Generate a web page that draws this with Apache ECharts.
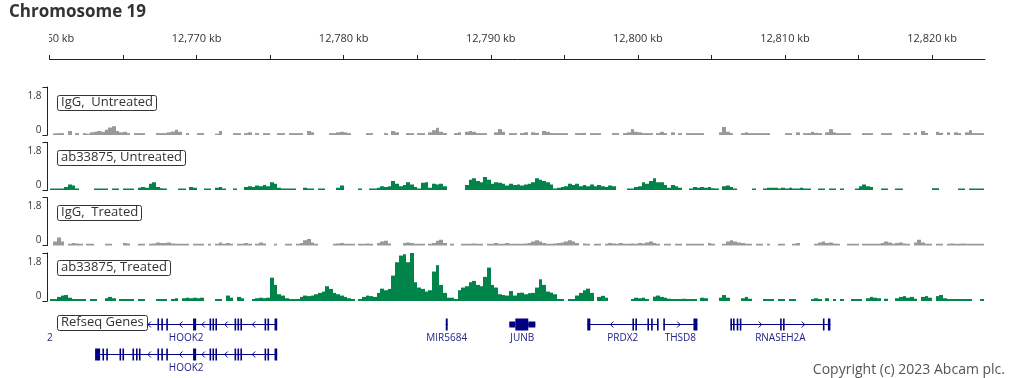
<!DOCTYPE html>
<html><head><meta charset="utf-8">
<script src="https://cdn.jsdelivr.net/npm/echarts@6/dist/echarts.min.js"></script>
<style>html,body{margin:0;padding:0;background:#fff}#c{width:1020px;height:378px}</style>
</head><body><div id="c"></div>
<script>
const _ = null;
// genomic window (kb) and axis ticks
const regionMinKb = 12760, regionMaxKb = 12823.6;
const tickKb = [12760,12765,12770,12775,12780,12785,12790,12795,12800,12805,12810,12815,12820];
const labelKb = [12760,12770,12780,12790,12800,12810,12820];
// coverage bins
const binStartKb = 12760, binSizeKb = 0.25;
const trackNames = ['IgG,  Untreated','ab33875, Untreated','IgG,  Treated','ab33875, Treated'];
const igGUntreated = [
_,0.06,0.07,0.07,_,0.15,_,0.07,_,0.07,
0.05,0.1,0.12,0.15,0.12,0.2,0.28,0.33,0.15,0.1,
0.12,0.07,_,0.07,0.07,0.07,_,_,_,0.07,
0.07,0.07,0.1,0.13,0.2,0.12,_,0.07,_,_,
0.07,0.07,_,_,_,0.05,0.15,_,_,_,
0.07,0.07,_,0.07,0.1,_,0.07,_,0.07,0.07,
_,_,0.07,0.07,_,0.07,0.07,0.07,0.07,_,
0.15,0.1,_,_,_,_,0.07,0.07,0.1,0.12,
0.1,0.07,_,_,_,_,0.07,0.07,_,_,
_,0.07,_,0.15,0.1,_,_,0.07,0.07,_,
0.07,0.07,_,0.1,0.18,0.27,0.12,0.07,_,_,
0.07,0.1,_,0.12,0.15,0.12,0.07,0.07,0.07,_,
_,0.1,0.22,0.12,_,0.07,0.07,_,0.07,0.1,
_,0.1,0.08,_,0.15,0.12,0.07,0.07,0.07,0.07,
0.07,_,_,0.07,0.07,0.08,_,0.07,0.07,0.07,
_,_,_,0.07,0.07,_,0.07,0.1,0.22,0.12,
0.1,0.07,0.07,0.07,_,0.07,0.12,0.07,_,0.1,
_,0.07,_,0.07,0.07,0.07,0.07,0.07,_,_,
_,_,0.1,0.3,0.12,0.07,_,_,0.07,0.1,
0.07,0.07,0.07,0.07,0.07,0.07,_,_,_,_,
0.07,0.07,_,0.1,_,0.07,0.07,0.12,0.08,0.07,
_,0.1,0.22,0.1,0.07,0.07,0.07,0.07,_,_,
_,0.07,0.07,0.07,_,_,0.07,0.07,0.07,_,
_,_,0.07,0.07,_,0.1,_,0.15,0.08,_,
_,0.12,0.08,_,0.1,_,0.1,0.07,_,0.1,
0.18,0.07,0.07,0.07,_];
const abUntreated = [
0.07,0.07,0.07,0.07,0.12,0.22,0.18,0.07,_,_,
_,_,0.07,0.07,0.07,0.07,_,0.07,0.07,_,
0.07,0.07,0.07,_,0.1,0.12,0.1,0.25,0.3,0.12,
0.08,0.07,_,_,_,0.07,0.07,_,0.12,0.1,
_,_,0.07,0.07,_,0.1,0.12,0.07,_,_,
0.07,_,_,0.12,0.15,0.12,0.18,0.15,0.2,0.15,
0.3,0.25,0.1,0.07,0.07,0.07,0.07,_,_,0.1,
0.07,0.07,_,0.07,0.07,_,_,_,0.1,0.18,
_,_,_,_,0.07,_,_,0.07,0.07,0.1,
0.15,0.12,0.15,0.35,0.25,0.15,0.2,0.3,0.22,0.12,
0.07,0.28,0.3,0.1,0.25,0.22,0.25,0.15,_,_,
_,_,_,0.2,0.4,0.45,0.35,0.3,0.5,0.4,
0.25,0.3,0.28,0.25,0.18,0.25,0.2,0.22,0.18,0.22,
0.25,0.3,0.45,0.4,0.35,0.3,0.22,0.07,0.1,0.12,
0.15,0.25,0.2,0.25,0.15,0.2,0.15,0.22,0.15,0.2,
0.15,0.12,0.18,0.15,_,_,_,0.07,0.07,0.12,
0.15,0.3,0.25,0.35,0.45,0.3,0.3,0.2,0.1,0.2,
0.15,0.1,_,_,0.07,0.12,0.1,0.12,0.1,0.12,
0.08,0.07,_,0.15,0.18,0.12,0.07,_,_,_,
_,0.07,_,_,0.07,0.1,0.1,0.1,0.07,0.1,
0.07,0.1,0.07,0.07,0.1,0.07,0.07,_,_,0.07,
0.07,_,0.07,0.07,_,0.07,_,_,_,0.07,
0.15,0.22,0.15,0.12,_,_,0.07,0.07,_,_,
0.07,0.07,_,_,_,_,_,_,_,_,
0.08,0.08,_,_,_,_,_,0.07,0.07,_,
0.07,0.07,0.07,0.07,_];
const igGTreated = [
_,0.15,0.3,0.15,_,0.07,0.1,0.08,0.07,_,
0.07,0.07,_,_,_,0.07,0.07,_,_,_,
0.1,0.08,_,_,0.07,0.07,_,0.07,0.08,0.12,
0.1,0.1,0.12,0.08,0.07,0.07,0.07,0.07,_,0.07,
0.07,0.07,_,0.07,_,0.07,0.12,0.07,0.1,0.07,
_,0.07,0.07,0.1,0.07,_,0.07,0.12,0.08,_,
_,0.07,_,_,0.07,0.07,_,0.07,0.1,0.2,
0.25,0.12,0.07,_,_,_,_,0.07,0.08,0.1,
0.07,0.07,0.07,_,0.07,0.07,0.08,0.07,_,0.1,
0.15,0.18,0.08,_,_,_,0.1,0.12,0.1,0.07,
0.07,0.07,_,0.07,0.1,0.18,0.22,0.1,_,0.07,
_,_,0.07,0.07,0.07,0.08,0.07,0.07,_,0.07,
0.07,0.1,0.07,0.07,0.1,0.07,0.07,0.07,0.07,0.08,
0.1,0.15,0.2,0.15,0.1,0.07,0.07,0.08,0.1,0.12,
0.15,0.2,0.15,0.1,_,0.08,0.07,_,0.07,0.07,
_,0.07,0.1,0.08,0.07,0.1,0.07,0.07,0.08,0.07,
0.1,0.08,0.12,0.15,0.1,0.07,_,0.07,0.07,_,
0.07,0.07,_,0.07,0.07,0.07,0.07,0.07,_,0.1,
0.07,_,_,0.07,0.15,0.2,0.15,0.12,0.1,0.07,
0.07,_,0.07,0.07,_,0.07,_,_,0.07,0.07,
_,_,0.07,0.1,_,_,_,_,0.07,0.12,
0.15,0.1,0.12,0.08,0.07,_,_,0.07,0.07,0.07,
_,0.07,0.07,0.07,0.07,0.07,0.1,0.15,0.12,0.07,
0.1,0.12,0.08,0.07,_,0.12,0.22,0.12,0.07,0.07,
_,0.07,0.07,_,0.07,0.08,0.07,0.07,0.08,0.07,
0.07,0.07,0.07,0.07,_];
const abTreated = [
0.07,0.07,0.15,0.2,0.22,0.12,0.07,0.07,0.07,0.07,
_,0.07,0.07,_,_,0.1,0.15,0.1,_,0.07,
0.07,0.07,0.07,_,0.07,0.07,_,_,_,0.07,
0.07,0.07,_,0.07,0.1,_,0.1,0.12,0.1,0.12,
0.1,0.12,_,_,_,0.07,0.07,_,0.2,0.12,
_,0.15,0.1,_,_,0.07,0.1,0.12,0.1,0.12,
0.87,0.6,0.25,0.2,0.1,0.07,0.07,0.07,0.15,0.2,
0.18,0.2,0.25,0.3,0.35,0.55,0.45,0.3,0.25,0.2,
0.15,0.1,0.07,_,0.07,0.15,0.2,0.18,0.15,0.3,
0.46,0.4,0.45,0.95,1.45,1.7,1.75,1.45,1.8,0.7,
0.5,0.45,0.35,0.4,1.1,1.34,0.6,0.3,0.12,0.12,
0.07,0.4,0.5,0.55,0.7,0.75,0.6,0.55,0.9,1.25,
0.6,0.5,0.25,0.22,0.2,0.37,0.2,0.3,0.31,0.25,
0.29,0.3,0.5,0.81,0.6,0.35,0.31,0.25,0.07,0.07,
_,0.07,0.07,0.2,0.3,0.4,0.46,0.3,_,0.15,
0.19,0.12,_,_,_,_,_,_,0.07,0.12,
0.1,0.12,0.07,_,0.16,0.2,0.15,0.12,0.08,0.07,
0.07,0.07,0.08,0.07,0.07,0.07,_,0.12,0.1,_,
_,_,0.12,0.22,0.12,_,_,_,0.1,0.15,
0.08,_,_,_,0.07,0.07,0.07,_,0.07,0.07,
_,0.07,0.07,_,_,_,_,0.07,0.1,0.07,
_,0.1,_,0.07,_,0.07,_,_,0.07,0.07,
0.07,_,0.1,0.15,0.12,0.1,_,0.08,_,_,
0.1,0.15,0.18,0.12,0.15,0.08,_,0.15,0.18,0.12,
_,0.18,0.22,0.1,0.07,0.07,0.07,0.07,0.07,0.07,
0.07,_,_,0.07,_];
const trackValues = [igGUntreated, abUntreated, igGTreated, abTreated];
const trackMax = 1.8;

// RefSeq genes
const geneNames  = ['HOOK2','HOOK2','MIR5684','JUNB','PRDX2','THSD8','RNASEH2A'];
const geneRow    = [0, 1, 0, 0, 0, 0, 0];
const geneStrand = ['-','-','-','+','-','+','+'];
const geneStart  = [12763.10, 12763.10, 12786.94, 12791.26, 12796.56, 12801.73, 12806.29];
const geneEnd    = [12775.48, 12775.48, 12787.07, 12793.03, 12801.39, 12804.05, 12813.09];
const geneCds    = [[12763.10,12775.48],[12763.10,12775.48],[12786.94,12787.07],[12791.67,12792.55],[12796.56,12801.39],[12801.73,12804.05],[12806.29,12813.09]];
const hook2Exons = [[12763.60,12763.70],[12763.86,12763.96],[12764.76,12764.86],[12764.96,12765.06],[12765.64,12765.74],[12765.88,12765.98],[12766.08,12766.18],[12767.34,12767.44],[12767.60,12767.70],[12767.94,12768.04],[12769.76,12769.97],[12770.88,12770.98],[12771.08,12771.18],[12771.28,12771.38],[12772.58,12772.68],[12772.78,12772.88],[12772.98,12773.08],[12774.62,12774.72],[12774.82,12774.92],[12775.30,12775.48]];
const geneExons = [
  hook2Exons,
  [[12763.10,12763.44]].concat(hook2Exons),
  [[12786.94,12787.07]],
  [[12791.26,12793.03]],
  [[12796.56,12796.77],[12799.63,12799.73],[12799.83,12799.93],[12800.65,12800.75],[12800.90,12801.00],[12801.30,12801.39]],
  [[12801.73,12801.83],[12803.78,12804.05]],
  [[12806.29,12806.39],[12806.47,12806.57],[12806.72,12806.82],[12806.93,12807.03],[12809.67,12809.77],[12809.87,12809.97],[12812.58,12812.68],[12812.92,12813.09]]
];

const FONT = 'Open Sans';
const GREY = '#999999', GREEN = '#00844a', NAVY = '#000080';
const trackColors = [GREY, GREEN, GREY, GREEN];
const trackTops = [87, 142.3, 197.6, 252.9];
const GL = 49.5, GR = 35;

const chart = echarts.init(document.getElementById('c'), null, {renderer: 'canvas'});

const grids = [{left: GL, right: GR, top: 49, height: 10}];
const xAxes = [{
  gridIndex: 0, type: 'value', position: 'top', min: regionMinKb, max: regionMaxKb,
  axisLine: {show: true, lineStyle: {color: '#222', width: 1}},
  axisTick: {show: true, length: 4, customValues: tickKb, lineStyle: {color: '#222'}},
  axisLabel: {show: true, customValues: labelKb, margin: 5, fontSize: 11, color: '#333', fontFamily: FONT,
    formatter: v => v.toLocaleString('en-US') + ' kb'},
  splitLine: {show: false}
}];
const yAxes = [{gridIndex: 0, type: 'value', show: false, min: 0, max: 1}];
const series = [];

function trackRenderer(color) {
  return function (params, api) {
    const x0 = api.value(0), v = api.value(1);
    const p0 = api.coord([x0, 0]);
    const p1 = api.coord([x0 + binSizeKb, v]);
    const xa = Math.round(p0[0]), xb = Math.round(p1[0]);
    const yb = Math.round(p0[1]);
    return {type: 'rect', shape: {x: xa, y: p1[1], width: xb - xa, height: yb - p1[1]},
      style: {fill: color}};
  };
}

trackValues.forEach((vals, k) => {
  const gi = k + 1;
  grids.push({left: GL, right: GR, top: trackTops[k], height: 48});
  xAxes.push({gridIndex: gi, type: 'value', min: regionMinKb, max: regionMaxKb, show: false});
  yAxes.push({
    gridIndex: gi, type: 'value', min: 0, max: trackMax, interval: trackMax, offset: 2,
    axisLine: {show: true, lineStyle: {color: '#222', width: 1}},
    axisTick: {show: true, length: 5, lineStyle: {color: '#222'}},
    splitLine: {show: false},
    axisLabel: {fontSize: 10, color: '#333', margin: 6, fontFamily: FONT,
      verticalAlignMaxLabel: 'top', verticalAlignMinLabel: 'bottom', padding: [4, 0, 0, 0]}
  });
  const data = [];
  vals.forEach((v, i) => { if (v !== null) data.push([binStartKb + i * binSizeKb, v]); });
  series.push({type: 'custom', xAxisIndex: gi, yAxisIndex: gi, clip: true, silent: true,
    renderItem: trackRenderer(trackColors[k]), encode: {x: 0, y: 1}, data: data});
});

// gene track
grids.push({left: GL, right: GR, top: 324, height: 30});
xAxes.push({gridIndex: 5, type: 'value', min: regionMinKb, max: regionMaxKb, show: false});
yAxes.push({gridIndex: 5, type: 'value', min: 0, max: 1, inverse: true, show: false});

function geneRenderer(params, api) {
  const g = params.dataIndex;
  const row = geneRow[g];
  const cy = Math.round(api.coord([geneStart[g], row])[1]) + 0.5;
  const px = kb => api.coord([kb, row])[0];
  const sx = px(geneStart[g]), ex = px(geneEnd[g]);
  const children = [];
  children.push({type: 'line', shape: {x1: sx, y1: cy, x2: ex, y2: cy}, style: {stroke: NAVY, lineWidth: 1}});
  const cds = geneCds[g];
  const exons = geneExons[g];
  const drawPart = (s, e, h) => {
    if (e <= s) return;
    const a = px(s), b = px(e);
    const w = Math.max(b - a, 1.6);
    children.push({type: 'rect', shape: {x: a, y: cy - h / 2, width: w, height: h}, style: {fill: NAVY}});
  };
  exons.forEach(([s, e]) => {
    drawPart(s, Math.min(e, cds[0]), 6);
    drawPart(Math.max(s, cds[0]), Math.min(e, cds[1]), 12);
    drawPart(Math.max(s, cds[1]), e, 6);
  });
  // strand chevrons along introns
  for (let i = 0; i < exons.length - 1; i++) {
    const a = px(exons[i][1]), b = px(exons[i + 1][0]);
    const L = b - a;
    if (L < 12) continue;
    const n = Math.max(1, Math.floor(L / 30));
    for (let k = 0; k < n; k++) {
      const x = a + L * (k + 0.5) / n;
      const pts = geneStrand[g] === '-' ? [[x + 2, cy - 3], [x - 1, cy], [x + 2, cy + 3]]
                                        : [[x - 2, cy - 3], [x + 1, cy], [x - 2, cy + 3]];
      children.push({type: 'polyline', shape: {points: pts}, style: {stroke: NAVY, lineWidth: 1, fill: null}});
    }
  }
  children.push({type: 'text', x: (sx + ex) / 2, y: cy + 9,
    style: {text: geneNames[g], fill: '#22228a', fontSize: 10, fontFamily: FONT, align: 'center', verticalAlign: 'top'}});
  return {type: 'group', children: children};
}
series.push({type: 'custom', xAxisIndex: 5, yAxisIndex: 5, clip: false, silent: true,
  renderItem: geneRenderer, encode: {x: [0, 2], y: 1},
  data: geneNames.map((n, i) => [geneStart[i], geneRow[i], geneEnd[i]])});

const boxTitle = (text, top) => ({
  text: text, left: 57, top: top, padding: [1, 4, 2, 4],
  borderColor: '#333', borderWidth: 1, borderRadius: 2, backgroundColor: '#fff',
  textStyle: {fontSize: 13, fontWeight: 'normal', color: '#333', fontFamily: FONT}
});

chart.setOption({
  animation: false,
  textStyle: {fontFamily: FONT},
  title: [
    {text: 'Chromosome 19', left: 9, top: 4, padding: 0,
      textStyle: {fontSize: 17, fontWeight: 'bold', color: '#333', fontFamily: FONT}},
    boxTitle(trackNames[0], 95), boxTitle(trackNames[1], 150),
    boxTitle(trackNames[2], 205), boxTitle(trackNames[3], 260),
    boxTitle('Refseq Genes', 315),
    {text: 'Copyright (c) 2023 Abcam plc.', right: 15, bottom: 1, padding: 0,
      textStyle: {fontSize: 14, fontWeight: 'normal', color: '#555', fontFamily: FONT}}
  ],
  grid: grids,
  xAxis: xAxes,
  yAxis: yAxes,
  series: series,
  graphic: [
    {type: 'rect', z: 100, shape: {x: 0, y: 26, width: 49, height: 19}, style: {fill: '#fff'}},
    {type: 'text', z: 100, x: 47, y: 333, style: {text: '2', fill: '#22228a', fontSize: 10, fontFamily: FONT}}
  ]
});
</script></body></html>
